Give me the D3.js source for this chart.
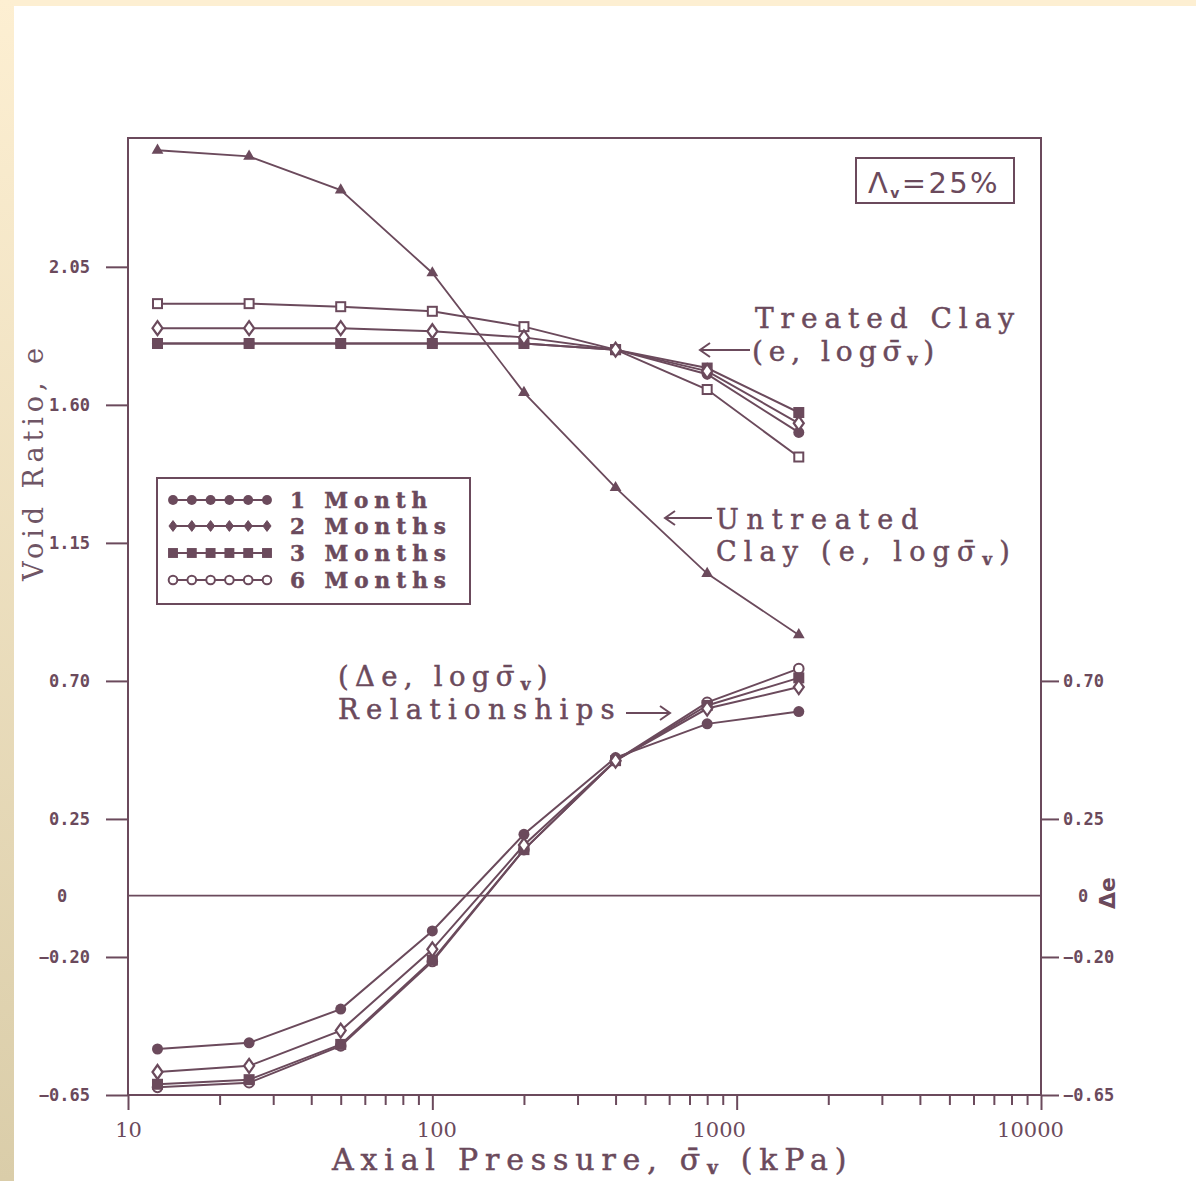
<!DOCTYPE html>
<html>
<head>
<meta charset="utf-8">
<script src="https://cdn.jsdelivr.net/npm/d3@7"></script>
<style>
  html, body { margin: 0; padding: 0; background: #ffffff; }
  svg { display: block; }
</style>
</head>
<body>
<svg id="chart" width="1196" height="1181"></svg>
<script>
// ---------------- data ----------------
const pressures = [12.5, 25, 50, 100, 200, 400, 800, 1600];   // kPa
const seriesNames = ["1 Month", "2 Months", "3 Months", "6 Months"];

const untreatedE = [2.43, 2.41, 2.30, 2.03, 1.64, 1.33, 1.05, 0.85];

const treatedE_1Month  = [1.80, 1.80, 1.80, 1.80, 1.80, 1.78, 1.70, 1.51];
const treatedE_2Months = [1.85, 1.85, 1.85, 1.84, 1.82, 1.78, 1.71, 1.54];
const treatedE_3Months = [1.80, 1.80, 1.80, 1.80, 1.80, 1.78, 1.72, 1.575];
const treatedE_6Months = [1.93, 1.93, 1.92, 1.905, 1.855, 1.78, 1.65, 1.43];

const deltaE_1Month  = [-0.50, -0.48, -0.37, -0.115, 0.20, 0.45, 0.56, 0.60];
const deltaE_2Months = [-0.575, -0.555, -0.44, -0.175, 0.165, 0.44, 0.61, 0.68];
const deltaE_3Months = [-0.615, -0.60, -0.485, -0.21, 0.15, 0.44, 0.62, 0.71];
const deltaE_6Months = [-0.625, -0.61, -0.49, -0.215, 0.15, 0.44, 0.63, 0.74];

const leftTicks  = [2.05, 1.60, 1.15, 0.70, 0.25, 0, -0.20, -0.65];
const rightTicks = [0.70, 0.25, 0, -0.20, -0.65];
const xMajorTicks = [10, 100, 1000, 10000];

// ---------------- layout ----------------
const C = "#6b4a5c";
const svg = d3.select("#chart");
const W = 1196, H = 1181;
const plot = { left: 128, right: 1041, top: 138, bottom: 1095 };

const x = d3.scaleLog().domain([10, 10000]).range([plot.left, plot.right]);
const y = d3.scaleLinear().domain([-0.65, 2.47]).range([plot.bottom, plot.top]);

// background and scan borders
svg.append("rect").attr("width", W).attr("height", H).attr("fill", "#ffffff");
const defs = svg.append("defs");
const grad = defs.append("linearGradient").attr("id", "strip").attr("x1", 0).attr("y1", 0).attr("x2", 0).attr("y2", 1);
grad.append("stop").attr("offset", "0%").attr("stop-color", "#fdefd2");
grad.append("stop").attr("offset", "100%").attr("stop-color", "#dacda9");
svg.append("rect").attr("x", 0).attr("y", 0).attr("width", W).attr("height", 6).attr("fill", "#fdefd2");
svg.append("rect").attr("x", 0).attr("y", 0).attr("width", 14).attr("height", H).attr("fill", "url(#strip)");

function fit(sel, w) {
  sel.attr("letter-spacing", 0);
  const nat = sel.node().getComputedTextLength();
  const n = sel.text().length;
  sel.attr("letter-spacing", ((w - nat) / n).toFixed(2));
  return sel;
}

// ---------------- frame ----------------
svg.append("rect")
  .attr("x", plot.left).attr("y", plot.top)
  .attr("width", plot.right - plot.left).attr("height", plot.bottom - plot.top)
  .attr("fill", "none").attr("stroke", C).attr("stroke-width", 2);

// zero line
svg.append("line")
  .attr("x1", plot.left).attr("x2", plot.right)
  .attr("y1", y(0)).attr("y2", y(0))
  .attr("stroke", C).attr("stroke-width", 1.6);

// ---------------- axes ----------------
const fmt = d => d === 0 ? "0" : d3.format(".2f")(d);

const gL = svg.append("g").attr("transform", `translate(${plot.left},0)`)
  .call(d3.axisLeft(y).tickValues(leftTicks).tickFormat(fmt).tickSize(22).tickPadding(16));
const gR = svg.append("g").attr("transform", `translate(${plot.right},0)`)
  .call(d3.axisRight(y).tickValues(rightTicks).tickFormat(fmt).tickSize(18).tickPadding(4));

[gL, gR].forEach(g => {
  g.select(".domain").remove();
  g.selectAll(".tick line").attr("stroke", C).attr("stroke-width", 2);
  g.selectAll(".tick text")
    .attr("fill", C)
    .style("font-family", "'DejaVu Sans Mono', monospace")
    .style("font-weight", "bold")
    .style("font-size", "17px");
  g.selectAll(".tick").filter(d => d === 0).select("line").remove();
});
gL.selectAll(".tick").filter(d => d === 0).select("text").attr("x", -66).attr("text-anchor", "middle");
gR.selectAll(".tick").filter(d => d === 0).select("text").attr("x", 42).attr("text-anchor", "middle");

// bottom log axis with minor ticks
const allXTicks = [];
for (let p = 10; p < 10000; p *= 10) for (let k = 1; k <= 9; k++) allXTicks.push(p * k);
allXTicks.push(10000);
const labelShift = { 10: 0, 100: 4, 1000: -18, 10000: -11 };
const gB = svg.append("g").attr("transform", `translate(0,${plot.bottom})`)
  .call(d3.axisBottom(x).tickValues(allXTicks)
    .tickFormat(d => xMajorTicks.includes(d) ? String(d) : "")
    .tickSize(15).tickPadding(12));
gB.select(".domain").remove();
gB.selectAll(".tick line").attr("stroke", C).attr("stroke-width", 2)
  .attr("y2", d => xMajorTicks.includes(d) ? 15 : 10);
gB.selectAll(".tick text")
  .attr("fill", C)
  .attr("dx", d => labelShift[d] || 0)
  .style("font-family", "'DejaVu Serif', serif")
  .style("font-size", "21px");

// axis titles
const yTitle = svg.append("text")
  .attr("transform", "translate(43,462) rotate(-90)")
  .attr("text-anchor", "middle")
  .attr("fill", "#6f5565")
  .style("font-family", "'DejaVu Serif', serif")
  .style("font-size", "27px")
  .text("Void Ratio, e");
fit(yTitle, 238);

svg.append("text")
  .attr("transform", "translate(1115,893) rotate(-90)")
  .attr("text-anchor", "middle")
  .attr("fill", C)
  .style("font-family", "'DejaVu Sans', sans-serif")
  .style("font-weight", "bold")
  .style("font-size", "22px")
  .text("Δe");

function sigmaText(g, xx, yy, parts, size) {
  const t = g.append("text").attr("x", xx).attr("y", yy).attr("fill", C)
    .attr("stroke", C).attr("stroke-width", 0.5)
    .style("font-family", "'DejaVu Serif', serif").style("font-size", size + "px");
  let shifted = false;
  parts.forEach(([s, sub]) => {
    const ts = t.append("tspan").text(s);
    if (sub) { ts.attr("dy", size * 0.14).style("font-size", (size * 0.6) + "px").style("font-weight", "bold"); shifted = true; }
    else if (shifted) { ts.attr("dy", -size * 0.14); shifted = false; }
  });
  return t;
}

const xt = sigmaText(svg, 332, 1170,
  [["Axial Pressure, σ\u0304", false], ["v", true], [" (kPa)", false]], 30);
fit(xt, 528);

// ---------------- curves ----------------
const line = d3.line().x(d => x(d[0])).y(d => y(d[1]));
const zipP = vals => pressures.map((p, i) => [p, vals[i]]);

const eSets = [treatedE_1Month, treatedE_2Months, treatedE_3Months, treatedE_6Months];
const dSets = [deltaE_1Month, deltaE_2Months, deltaE_3Months, deltaE_6Months];
const eMarkers = ["circleFilled", "diamondOpen", "squareFilled", "squareOpen"];
const dMarkers = ["circleFilled", "diamondOpen", "squareFilled", "circleOpen"];
const legendMarkers = ["circleFilled", "diamondFilled", "squareFilled", "circleOpen"];

function marker(g, type, cx, cy, s = 1) {
  switch (type) {
    case "circleFilled":
      g.append("circle").attr("cx", cx).attr("cy", cy).attr("r", 5.5 * s).attr("fill", C); break;
    case "circleOpen":
      g.append("circle").attr("cx", cx).attr("cy", cy).attr("r", 4.8 * s).attr("fill", "#fff").attr("stroke", C).attr("stroke-width", 2); break;
    case "diamondOpen":
      g.append("path").attr("d", `M${cx},${cy - 7 * s}L${cx + 5 * s},${cy}L${cx},${cy + 7 * s}L${cx - 5 * s},${cy}Z`)
        .attr("fill", "#fff").attr("stroke", C).attr("stroke-width", 2.2); break;
    case "diamondFilled":
      g.append("path").attr("d", `M${cx},${cy - 6 * s}L${cx + 4.5 * s},${cy}L${cx},${cy + 6 * s}L${cx - 4.5 * s},${cy}Z`)
        .attr("fill", C).attr("stroke", C).attr("stroke-width", 1); break;
    case "squareFilled":
      g.append("rect").attr("x", cx - 5.5 * s).attr("y", cy - 5.5 * s).attr("width", 11 * s).attr("height", 11 * s).attr("fill", C); break;
    case "squareOpen":
      g.append("rect").attr("x", cx - 4.5 * s).attr("y", cy - 4.5 * s).attr("width", 9 * s).attr("height", 9 * s)
        .attr("fill", "#fff").attr("stroke", C).attr("stroke-width", 2); break;
    case "triangle":
      g.append("path").attr("transform", `translate(${cx},${cy})`)
        .attr("d", d3.symbol().type(d3.symbolTriangle).size(60 * s)()).attr("fill", C); break;
  }
}

const gLines = svg.append("g");
const gMarks = svg.append("g");

// untreated
gLines.append("path").attr("d", line(zipP(untreatedE)))
  .attr("fill", "none").attr("stroke", C).attr("stroke-width", 1.8);
zipP(untreatedE).forEach(d => marker(gMarks, "triangle", x(d[0]), y(d[1])));

// treated e and delta e
eSets.forEach(vals => {
  gLines.append("path").attr("d", line(zipP(vals)))
    .attr("fill", "none").attr("stroke", C).attr("stroke-width", 2);
});
dSets.forEach(vals => {
  gLines.append("path").attr("d", line(zipP(vals)))
    .attr("fill", "none").attr("stroke", C).attr("stroke-width", 2);
});
[3, 0, 2, 1].forEach(i => {
  zipP(eSets[i]).forEach(d => marker(gMarks, eMarkers[i], x(d[0]), y(d[1])));
  zipP(dSets[i]).forEach(d => marker(gMarks, dMarkers[i], x(d[0]), y(d[1])));
});

// ---------------- legend ----------------
const lg = svg.append("g");
lg.append("rect").attr("x", 157).attr("y", 478).attr("width", 313).attr("height", 126)
  .attr("fill", "#fff").attr("stroke", C).attr("stroke-width", 2);
const rowsY = [500, 526, 553, 580];
const legendWidths = [143, 162, 162, 162];
seriesNames.forEach((name, i) => {
  const yy = rowsY[i];
  lg.append("line").attr("x1", 173).attr("x2", 267).attr("y1", yy).attr("y2", yy)
    .attr("stroke", C).attr("stroke-width", 2);
  d3.range(6).forEach(k => {
    const mx = 173 + k * (94 / 5);
    marker(lg, legendMarkers[i], mx, yy, 0.9);
  });
  const t = lg.append("text").attr("x", 290).attr("y", yy + 8).attr("fill", C)
    .attr("stroke", C).attr("stroke-width", 0.5)
    .style("font-family", "'DejaVu Serif', serif").style("font-weight", "bold")
    .style("font-size", "21.5px").text(name);
  fit(t, legendWidths[i]);
});

// ---------------- parameter box ----------------
svg.append("rect").attr("x", 856).attr("y", 158).attr("width", 158).attr("height", 45)
  .attr("fill", "#fff").attr("stroke", C).attr("stroke-width", 2);
const bt = svg.append("text").attr("x", 868).attr("y", 193).attr("fill", C)
  .style("font-family", "'DejaVu Sans', sans-serif").style("font-size", "29px");
bt.append("tspan").text("Λ");
bt.append("tspan").text("v").attr("dy", 5).style("font-size", "14px").style("font-weight", "bold");
bt.append("tspan").text("=25%").attr("dy", -5);
fit(bt, 132);

// ---------------- annotations ----------------
function arrow(x1, y1, x2, y2) {
  const g = svg.append("g").attr("stroke", C).attr("stroke-width", 2).attr("fill", "none");
  g.append("line").attr("x1", x1).attr("y1", y1).attr("x2", x2).attr("y2", y2);
  const dir = Math.sign(x2 - x1);
  g.append("path").attr("d", `M${x2 - dir * 10},${y2 - 7}L${x2},${y2}L${x2 - dir * 10},${y2 + 7}`);
}

function plainText(xx, yy, s, size, w) {
  const t = svg.append("text").attr("x", xx).attr("y", yy).attr("fill", C)
    .attr("stroke", C).attr("stroke-width", 0.5)
    .style("font-family", "'DejaVu Serif', serif").style("font-size", size + "px").text(s);
  return fit(t, w);
}

plainText(755, 328, "Treated Clay", 28, 266);
arrow(750, 350, 700, 350);
fit(sigmaText(svg, 752, 361, [["(e, logσ\u0304", false], ["v", true], [")", false]], 28), 194);

arrow(712, 518, 665, 518);
plainText(716, 529, "Untreated", 27, 210);
fit(sigmaText(svg, 716, 561, [["Clay (e, logσ\u0304", false], ["v", true], [")", false]], 27), 308);

fit(sigmaText(svg, 338, 686, [["(Δe, logσ\u0304", false], ["v", true], [")", false]], 27.5), 222);
plainText(338, 719, "Relationships", 27.5, 284);
arrow(626, 713, 670, 713);
</script>
</body>
</html>
